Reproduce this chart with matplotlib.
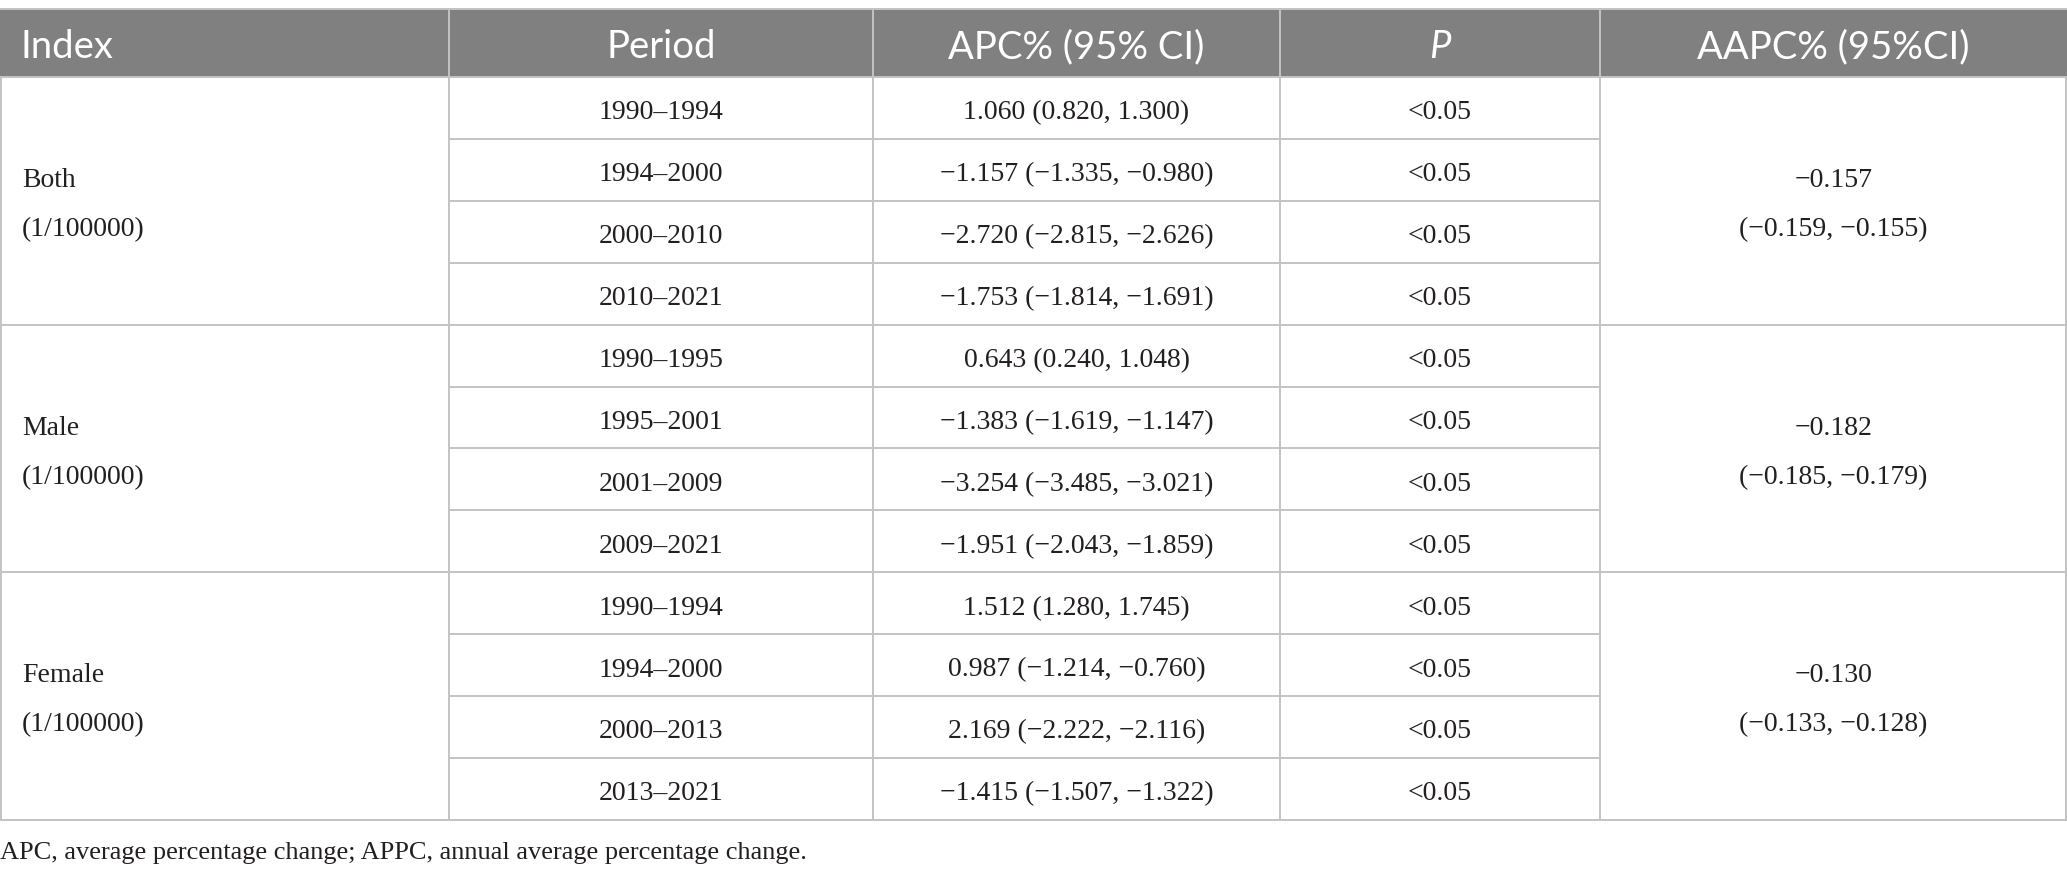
import matplotlib
matplotlib.use("Agg")
import matplotlib.pyplot as plt
from matplotlib.patches import Rectangle

# table content
headers = ["Index", "Period", "APC% (95% CI)", "P", "AAPC% (95%CI)"]
groups = ["Both", "Male", "Female"]
unit = "(1/100000)"
periods = [
    ["1990\u20131994", "1994\u20132000", "2000\u20132010", "2010\u20132021"],
    ["1990\u20131995", "1995\u20132001", "2001\u20132009", "2009\u20132021"],
    ["1990\u20131994", "1994\u20132000", "2000\u20132013", "2013\u20132021"],
]
apc = [
    ["1.060 (0.820, 1.300)", "\u22121.157 (\u22121.335, \u22120.980)",
     "\u22122.720 (\u22122.815, \u22122.626)", "\u22121.753 (\u22121.814, \u22121.691)"],
    ["0.643 (0.240, 1.048)", "\u22121.383 (\u22121.619, \u22121.147)",
     "\u22123.254 (\u22123.485, \u22123.021)", "\u22121.951 (\u22122.043, \u22121.859)"],
    ["1.512 (1.280, 1.745)", "0.987 (\u22121.214, \u22120.760)",
     "2.169 (\u22122.222, \u22122.116)", "\u22121.415 (\u22121.507, \u22121.322)"],
]
p_values = [["<0.05"] * 4 for _ in range(3)]
aapc = ["\u22120.157", "\u22120.182", "\u22120.130"]
aapc_ci = ["(\u22120.159, \u22120.155)", "(\u22120.185, \u22120.179)", "(\u22120.133, \u22120.128)"]
footnote = "APC, average percentage change; APPC, annual average percentage change."

# layout in pixels
W, H = 2067, 876
col_x = [0, 449, 873, 1280, 1600, 2067]
head_top, head_bot = 9, 77
row_h = 61.9
header_col = "#7f807f"
line_col = "#c3c3c3"
text_col = "#231f20"
serif = "Liberation Serif"
sans = "Lato"
body_fs = 20
head_fs = 27.5

fig = plt.figure(figsize=(W / 100, H / 100), dpi=100)
ax = fig.add_axes([0, 0, 1, 1])
ax.set_xlim(0, W)
ax.set_ylim(H, 0)
ax.axis("off")

# header band
ax.add_patch(Rectangle((0, head_top), W, head_bot - head_top, color=header_col, lw=0))
ax.plot([0, W], [head_top, head_top], color=line_col, lw=1.4)
for x in col_x[1:-1]:
    ax.plot([x, x], [head_top, head_bot], color=line_col, lw=1.4)

head_y = (head_top + head_bot) / 2 + 4
for i, h in enumerate(headers):
    if i == 0:
        ax.text(20, head_y, h, color="white", fontsize=head_fs, family=sans,
                ha="left", va="center")
    else:
        cx = (col_x[i] + col_x[i + 1]) / 2
        ax.text(cx, head_y, h, color="white", fontsize=head_fs, family=sans,
                ha="center", va="center", style="italic" if h == "P" else "normal")

# body
n_rows = sum(len(p) for p in periods)
bottom = head_bot + n_rows * row_h
for x in col_x:
    xx = min(max(x, 0.7), W - 0.7)
    ax.plot([xx, xx], [head_bot, bottom], color=line_col, lw=1.4)
ax.plot([0, W], [head_bot, head_bot], color=line_col, lw=1.4)

r = 0
for g, name in enumerate(groups):
    g_top = head_bot + r * row_h
    g_bot = g_top + len(periods[g]) * row_h
    g_mid = (g_top + g_bot) / 2 + 4
    ax.text(22, g_mid - 24, name, fontsize=body_fs, family=serif, color=text_col,
            ha="left", va="center")
    ax.text(22, g_mid + 25, unit, fontsize=body_fs, family=serif, color=text_col,
            ha="left", va="center")
    ax.text((col_x[4] + col_x[5]) / 2, g_mid - 24, aapc[g], fontsize=body_fs,
            family=serif, color=text_col, ha="center", va="center")
    ax.text((col_x[4] + col_x[5]) / 2, g_mid + 25, aapc_ci[g], fontsize=body_fs,
            family=serif, color=text_col, ha="center", va="center")
    for k in range(len(periods[g])):
        y0 = head_bot + r * row_h
        yc = y0 + row_h / 2 + 5
        for c, val in zip([1, 2, 3], [periods[g][k], apc[g][k], p_values[g][k]]):
            ax.text((col_x[c] + col_x[c + 1]) / 2, yc, val, fontsize=body_fs,
                    family=serif, color=text_col, ha="center", va="center")
        r += 1
        y1 = head_bot + r * row_h
        if k == len(periods[g]) - 1:
            ax.plot([0, W], [y1, y1], color=line_col, lw=1.4)
        else:
            ax.plot([col_x[1], col_x[4]], [y1, y1], color=line_col, lw=1.4)

ax.text(0, 853, footnote, fontsize=19, family=serif, color=text_col,
        ha="left", va="center")

fig.savefig("out.png", dpi=100, facecolor="white")
